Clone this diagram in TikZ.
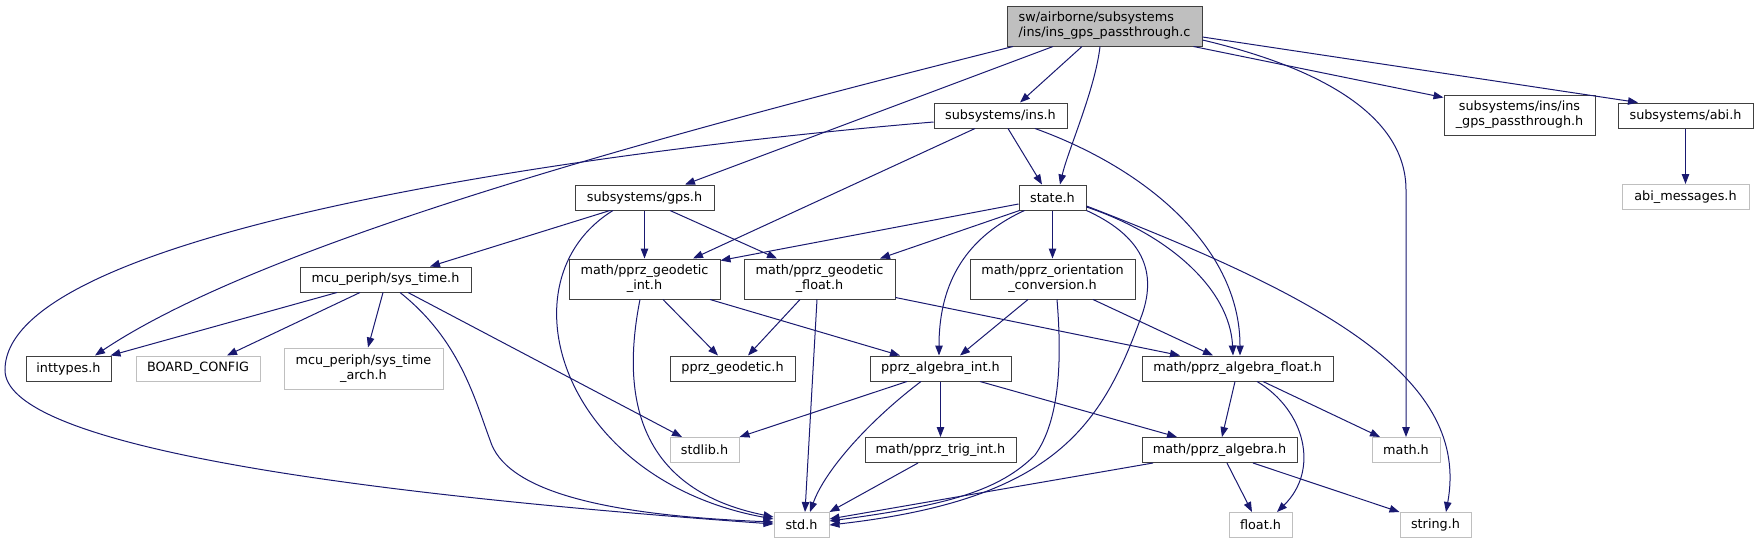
\documentclass[tikz,border=0pt]{standalone}
\usepackage{fontspec}
\setmainfont{DejaVu Sans}
\usetikzlibrary{arrows.meta,calc}
\definecolor{edgeblue}{HTML}{191970}
\definecolor{boxborder}{HTML}{404040}
\definecolor{grayborder}{HTML}{BFBFBF}
\definecolor{rootfill}{HTML}{BFBFBF}
\begin{document}
\begin{tikzpicture}[x=1pt,y=-1pt,
  box/.style={draw=boxborder, line width=1pt, inner sep=0pt, align=center,
    minimum height=25pt, font=\fontsize{12.8}{15}\selectfont, text=black},
  tallbox/.style={box, minimum height=40pt},
  gbox/.style={box, draw=grayborder},
  edge/.style={draw=edgeblue, line width=1pt, -{Triangle[length=10pt,width=7.5pt]}}]
\useasboundingbox (0,0) rectangle (1759,544);

% nodes
\node[tallbox, fill=rootfill, align=left, minimum width=195pt] (root) at (1104.5,26) {sw/airborne/subsystems\\/ins/ins\_gps\_passthrough.c};
\node[box, minimum width=133pt] (ins) at (1000.5,115.5) {subsystems/ins.h};
\node[tallbox, minimum width=151pt] (igp) at (1519.5,115) {subsystems/ins/ins\\\_gps\_passthrough.h};
\node[box, minimum width=135pt] (abi) at (1685.5,115.5) {subsystems/abi.h};
\node[gbox, minimum width=127pt] (abim) at (1685.5,197) {abi\_messages.h};
\node[box, minimum width=139pt] (gps) at (644.5,197.5) {subsystems/gps.h};
\node[box, minimum width=67pt] (state) at (1052.5,197.5) {state.h};
\node[box, minimum width=171pt] (systime) at (385.5,279.5) {mcu\_periph/sys\_time.h};
\node[tallbox, minimum width=151pt] (geoint) at (644.5,279) {math/pprz\_geodetic\\\_int.h};
\node[tallbox, minimum width=151pt] (geofloat) at (819.5,279) {math/pprz\_geodetic\\\_float.h};
\node[tallbox, minimum width=165pt] (orient) at (1052.5,279) {math/pprz\_orientation\\\_conversion.h};
\node[box, minimum width=85pt] (inttypes) at (68.5,368.5) {inttypes.h};
\node[gbox, minimum width=124pt] (board) at (198,368.5) {BOARD\_CONFIG};
\node[gbox, minimum width=159pt, minimum height=41pt] (arch) at (363.5,368.5) {mcu\_periph/sys\_time\\\_arch.h};
\node[box, minimum width=125pt] (geodetic) at (732.5,368.5) {pprz\_geodetic.h};
\node[box, minimum width=141pt] (algint) at (940.5,368.5) {pprz\_algebra\_int.h};
\node[box, minimum width=191pt] (algfloat) at (1237.5,368.5) {math/pprz\_algebra\_float.h};
\node[gbox, minimum width=69pt] (stdlib) at (704.5,450) {stdlib.h};
\node[box, minimum width=151pt] (trig) at (940.5,450) {math/pprz\_trig\_int.h};
\node[box, minimum width=155pt] (alg) at (1219.5,450) {math/pprz\_algebra.h};
\node[gbox, minimum width=68pt] (mathh) at (1406,450) {math.h};
\node[gbox, minimum width=55pt] (std) at (801.5,525) {std.h};
\node[gbox, minimum width=63pt] (floath) at (1260.5,525) {float.h};
\node[gbox, minimum width=71pt] (stringh) at (1435.5,525) {string.h};

\coordinate (mbend) at (1406,190);
\coordinate (lbend) at (5,370);
\coordinate (sbend) at (1140,320);
\coordinate (tbend) at (490,440);
\coordinate (obend) at (1035,455);

% root edges
\draw[edge] ([xshift=-22.5pt]root.south) -- ([xshift=19.5pt]ins.north);
\draw[edge] ([xshift=-51.5pt]root.south) -- ([xshift=40.5pt]gps.north);
\draw[edge] ([xshift=-91.5pt]root.south) .. controls (640,140) and (260,245) .. ([xshift=26.5pt]inttypes.north);
\draw[edge] ([xshift=-4.5pt]root.south) .. controls (1095,90) and (1068,150) .. ([xshift=7.5pt]state.north);
\draw[edge] ([yshift=-14pt]root.east) .. controls (1330,70) and (1406,120) .. (mbend) -- (mathh.north);
\draw[edge] ([xshift=-9pt]root.south east) -- ([yshift=-3pt]igp.north west);
\draw[edge] ([yshift=-11pt]root.east) -- ([xshift=-47.5pt]abi.north);
\draw[edge] (abi.south) -- (abim.north);

% ins edges
\draw[edge] ([xshift=7.5pt]ins.south) -- ([xshift=-10.5pt]state.north);
\draw[edge] ([xshift=-25.5pt]ins.south) -- ([xshift=48.5pt]geoint.north);
\draw[edge] ([xshift=34.5pt]ins.south) .. controls (1150,170) and (1240,250) .. ([xshift=2.5pt]algfloat.north);
\draw[edge] ([yshift=-6.5pt]ins.west) .. controls (600,150) and (5,230) .. (lbend) .. controls (5,440) and (300,490) .. ([yshift=1pt]std.west);

% gps edges
\draw[edge] ([xshift=-34.5pt]gps.south) -- ([xshift=44.5pt]systime.north);
\draw[edge] (gps.south) -- (geoint.north);
\draw[edge] ([xshift=25.5pt]gps.south) -- ([xshift=-42.5pt]geofloat.north);
\draw[edge] ([xshift=-31.5pt]gps.south) .. controls (500,280) and (560,480) .. ([yshift=6pt]std.west);

% sys_time edges
\draw[edge] ([xshift=14.5pt]systime.south) .. controls (460,340) and (475,400) .. (tbend) .. controls (505,490) and (600,515) .. ([yshift=3pt]std.west);
\draw[edge] ([xshift=22.5pt]systime.south) -- ([xshift=-22.5pt]stdlib.north);
\draw[edge] ([xshift=-48.5pt]systime.south) -- ([xshift=-1pt]inttypes.north east);
\draw[edge] ([xshift=-25.5pt]systime.south) -- ([xshift=29pt]board.north);
\draw[edge] ([xshift=-2.5pt]systime.south) -- ([xshift=4.5pt]arch.north);

% state edges
\draw[edge] ([yshift=-6.5pt]state.west) -- ([yshift=-2pt]geoint.north east);
\draw[edge] ([xshift=1pt]state.south west) -- ([xshift=60.5pt]geofloat.north);
\draw[edge] ([xshift=6pt]state.south west) .. controls (960,240) and (939,290) .. ([xshift=-1.5pt]algint.north);
\draw[edge] (state.south) -- (orient.north);
\draw[edge] ([yshift=-9.5pt]state.east) .. controls (1170,235) and (1230,290) .. ([xshift=-4.5pt]algfloat.north);
\draw[edge] (state.south east) .. controls (1140,235) and (1160,270) .. (sbend) .. controls (1100,430) and (1050,500) .. (std.east);
\draw[edge] ([yshift=-8.5pt]state.east) .. controls (1330,300) and (1470,380) .. ([xshift=10.5pt]stringh.north);

% orientation edges
\draw[edge] ([xshift=-24.5pt]orient.south) -- ([xshift=19.5pt]algint.north);
\draw[edge] ([xshift=4.5pt]orient.south) .. controls (1062,360) and (1060,420) .. (obend) .. controls (1000,490) and (950,505) .. ([yshift=4pt]std.east);
\draw[edge] ([xshift=40.5pt]orient.south) -- ([xshift=-24.5pt]algfloat.north);

% geodetic edges
\draw[edge] ([xshift=18.5pt]geoint.south) -- ([xshift=-14.5pt]geodetic.north);
\draw[edge] ([xshift=-19.5pt]geofloat.south) -- ([xshift=15.5pt]geodetic.north);
\draw[edge] ([xshift=65.5pt]geoint.south) -- ([xshift=-40.5pt]algint.north);
\draw[edge] ([xshift=-4.5pt]geoint.south) .. controls (620,400) and (640,490) .. ([yshift=8pt]std.west);
\draw[edge] ([xshift=-2.5pt]geofloat.south) -- ([xshift=3.5pt]std.north);
\draw[edge] ([yshift=2pt]geofloat.south east) -- ([xshift=-57.5pt]algfloat.north);

% algebra int edges
\draw[edge] ([xshift=-33.5pt]algint.south) -- (stdlib.north east);
\draw[edge] ([xshift=-19.5pt]algint.south) .. controls (870,420) and (825,470) .. ([xshift=8.5pt]std.north);
\draw[edge] (algint.south) -- (trig.north);
\draw[edge] ([xshift=39.5pt]algint.south) -- ([xshift=-42.5pt]alg.north);
\draw[edge] ([xshift=-22.5pt]trig.south) -- (std.north east);

% algebra float edges
\draw[edge] ([xshift=-2.5pt]algfloat.south) -- ([xshift=2.5pt]alg.north);
\draw[edge] ([xshift=19.5pt]algfloat.south) .. controls (1305,410) and (1320,470) .. ([xshift=16.5pt]floath.north);
\draw[edge] ([xshift=25.5pt]algfloat.south) -- ([xshift=-26pt]mathh.north);

% pprz_algebra edges
\draw[edge] ([xshift=-66.5pt]alg.south) -- ([yshift=6pt]std.east);
\draw[edge] ([xshift=7.5pt]alg.south) -- ([xshift=-8.5pt]floath.north);
\draw[edge] ([xshift=33.5pt]alg.south) -- (stringh.north west);
\end{tikzpicture}
\end{document}
